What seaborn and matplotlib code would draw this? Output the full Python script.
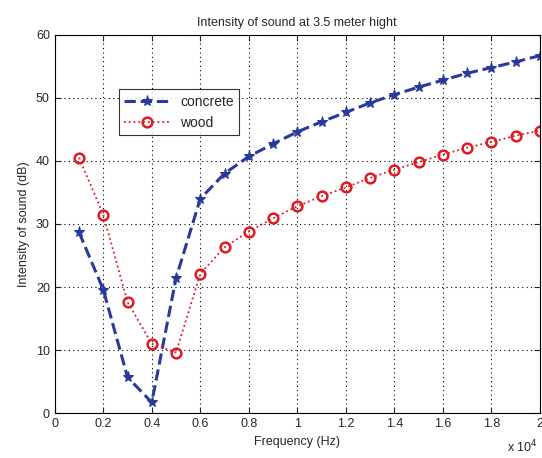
import matplotlib
matplotlib.use("Agg")
import matplotlib.pyplot as plt
import pandas as pd
import seaborn as sns
from matplotlib.ticker import FuncFormatter

freq_hz = [1000, 2000, 3000, 4000, 5000, 6000, 7000, 8000, 9000, 10000,
           11000, 12000, 13000, 14000, 15000, 16000, 17000, 18000, 19000, 20000]
concrete_db = [28.7, 19.6, 5.7, 1.7, 21.4, 34.0, 38.0, 40.7, 42.7, 44.6,
               46.2, 47.7, 49.2, 50.5, 51.7, 52.8, 53.9, 54.8, 55.7, 56.7]
wood_db = [40.5, 31.5, 17.6, 11.0, 9.6, 22.1, 26.3, 28.8, 30.9, 32.8,
           34.4, 35.8, 37.3, 38.6, 39.8, 41.0, 42.1, 43.0, 44.0, 44.8]

df = pd.DataFrame({
    "Frequency": freq_hz * 2,
    "Intensity": concrete_db + wood_db,
    "Material": ["concrete"] * len(freq_hz) + ["wood"] * len(freq_hz),
})

sns.set_style("ticks")
plt.rcParams["font.family"] = ["Liberation Sans", "DejaVu Sans"]

fig = plt.figure(figsize=(5.42, 4.58), dpi=100)
ax = fig.add_axes([0.101, 0.098, 0.895, 0.826])

sns.lineplot(data=df[df.Material == "concrete"], x="Frequency", y="Intensity",
             color="#2a3a9c", linestyle="--", linewidth=2.2, marker="*",
             markersize=8, markeredgecolor="#2a3a9c", label="concrete", ax=ax)
sns.lineplot(data=df[df.Material == "wood"], x="Frequency", y="Intensity",
             color="#e01a22", linestyle=":", linewidth=1.3, marker="o",
             markersize=7, markerfacecolor="none", markeredgecolor="#e01a22",
             markeredgewidth=1.8, label="wood", ax=ax)

ax.set_xlim(0, 20000)
ax.set_ylim(0, 60)
ax.set_xticks(range(0, 20001, 2000))
ax.set_yticks(range(0, 61, 10))
ax.xaxis.set_major_formatter(FuncFormatter(lambda v, p: f"{v / 1e4:g}"))
ax.tick_params(direction="in", top=True, right=True, labelsize=9, length=4)
ax.grid(True, linestyle=(0, (1, 3)), color="black", linewidth=0.8)
for s in ax.spines.values():
    s.set_linewidth(0.8)
    s.set_color("black")

ax.set_xlabel("Frequency (Hz)", fontsize=9)
ax.set_ylabel("Intensity of sound (dB)", fontsize=9)
ax.set_title("Intensity of sound at 3.5 meter hight", fontsize=9)
fig.text(0.992, 0.006, r"x 10$^4$", ha="right", va="bottom", fontsize=9)

leg = ax.legend(loc="upper left", bbox_to_anchor=(0.118, 0.875), fontsize=10,
                frameon=True, fancybox=False, edgecolor="black",
                handlelength=3.2, borderpad=0.4)
leg.get_frame().set_linewidth(0.8)

fig.savefig("out.png", dpi=100)
